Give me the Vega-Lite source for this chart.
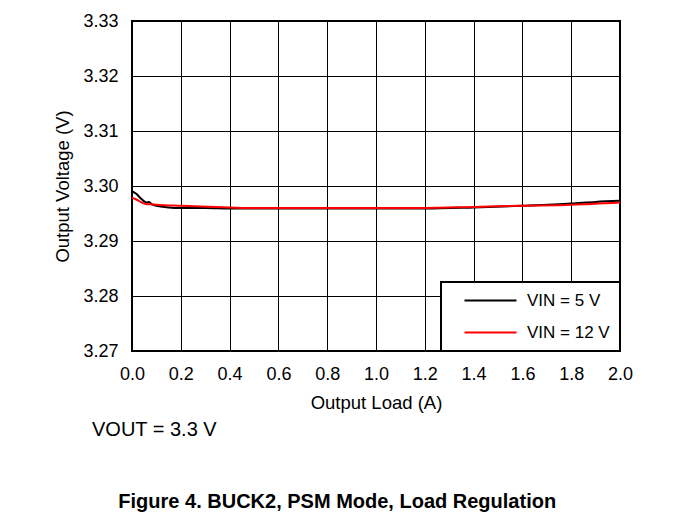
{
  "$schema": "https://vega.github.io/schema/vega-lite/v6.json",
  "padding": {"left": 52, "top": 11, "right": 5, "bottom": 3},
  "background": "white",
  "title": {
    "text": "Figure 4. BUCK2, PSM Mode, Load Regulation",
    "orient": "bottom",
    "anchor": "middle",
    "frame": "bounds",
    "offset": 51,
    "dx": -6,
    "fontSize": 20,
    "fontWeight": "bold",
    "font": "Liberation Sans",
    "color": "black"
  },
  "resolve": {"legend": {"color": "independent"}},
  "config": {
    "font": "Liberation Sans",
    "view": {"stroke": "black", "strokeWidth": 2},
    "axis": {
      "grid": true,
      "gridColor": "black",
      "gridWidth": 1,
      "gridOpacity": 1,
      "domain": false,
      "ticks": false,
      "labelFlush": false,
      "labelFont": "Liberation Sans",
      "labelFontSize": 18,
      "labelColor": "black",
      "titleFont": "Liberation Sans",
      "titleFontSize": 18.5,
      "titleFontWeight": "normal",
      "titleColor": "black"
    }
  },
  "vconcat": [
    {
      "width": 488,
      "height": 330,
      "title": {
        "text": "VOUT = 3.3 V",
        "orient": "bottom",
        "anchor": "start",
        "frame": "group",
        "dx": -40,
        "offset": 8,
        "fontSize": 20,
        "fontWeight": "normal",
        "font": "Liberation Sans",
        "color": "black"
      },
      "data": {
        "values": [
          {"load": 0.00, "voltage": 3.2990, "series": "VIN = 5 V"},
          {"load": 0.01, "voltage": 3.2988, "series": "VIN = 5 V"},
          {"load": 0.02, "voltage": 3.2985, "series": "VIN = 5 V"},
          {"load": 0.03, "voltage": 3.2980, "series": "VIN = 5 V"},
          {"load": 0.04, "voltage": 3.2976, "series": "VIN = 5 V"},
          {"load": 0.05, "voltage": 3.2972, "series": "VIN = 5 V"},
          {"load": 0.06, "voltage": 3.2970, "series": "VIN = 5 V"},
          {"load": 0.07, "voltage": 3.2971, "series": "VIN = 5 V"},
          {"load": 0.08, "voltage": 3.2967, "series": "VIN = 5 V"},
          {"load": 0.10, "voltage": 3.2964, "series": "VIN = 5 V"},
          {"load": 0.15, "voltage": 3.2961, "series": "VIN = 5 V"},
          {"load": 0.20, "voltage": 3.2960, "series": "VIN = 5 V"},
          {"load": 0.30, "voltage": 3.2960, "series": "VIN = 5 V"},
          {"load": 0.40, "voltage": 3.2959, "series": "VIN = 5 V"},
          {"load": 0.50, "voltage": 3.2959, "series": "VIN = 5 V"},
          {"load": 0.60, "voltage": 3.2959, "series": "VIN = 5 V"},
          {"load": 0.80, "voltage": 3.2959, "series": "VIN = 5 V"},
          {"load": 1.00, "voltage": 3.2959, "series": "VIN = 5 V"},
          {"load": 1.20, "voltage": 3.2959, "series": "VIN = 5 V"},
          {"load": 1.40, "voltage": 3.2961, "series": "VIN = 5 V"},
          {"load": 1.60, "voltage": 3.2964, "series": "VIN = 5 V"},
          {"load": 1.80, "voltage": 3.2968, "series": "VIN = 5 V"},
          {"load": 1.90, "voltage": 3.2971, "series": "VIN = 5 V"},
          {"load": 2.00, "voltage": 3.2973, "series": "VIN = 5 V"},
          {"load": 0.00, "voltage": 3.2979, "series": "VIN = 12 V"},
          {"load": 0.02, "voltage": 3.2975, "series": "VIN = 12 V"},
          {"load": 0.04, "voltage": 3.2970, "series": "VIN = 12 V"},
          {"load": 0.06, "voltage": 3.2967, "series": "VIN = 12 V"},
          {"load": 0.08, "voltage": 3.2967, "series": "VIN = 12 V"},
          {"load": 0.10, "voltage": 3.2966, "series": "VIN = 12 V"},
          {"load": 0.20, "voltage": 3.2964, "series": "VIN = 12 V"},
          {"load": 0.40, "voltage": 3.2961, "series": "VIN = 12 V"},
          {"load": 0.50, "voltage": 3.2960, "series": "VIN = 12 V"},
          {"load": 0.60, "voltage": 3.2960, "series": "VIN = 12 V"},
          {"load": 0.80, "voltage": 3.2960, "series": "VIN = 12 V"},
          {"load": 1.00, "voltage": 3.2960, "series": "VIN = 12 V"},
          {"load": 1.20, "voltage": 3.2960, "series": "VIN = 12 V"},
          {"load": 1.40, "voltage": 3.2962, "series": "VIN = 12 V"},
          {"load": 1.60, "voltage": 3.2964, "series": "VIN = 12 V"},
          {"load": 1.80, "voltage": 3.2966, "series": "VIN = 12 V"},
          {"load": 2.00, "voltage": 3.2970, "series": "VIN = 12 V"}
        ]
      },
      "mark": {"type": "line", "strokeWidth": 2, "interpolate": "monotone"},
      "encoding": {
        "x": {
          "field": "load",
          "type": "quantitative",
          "scale": {"domain": [0, 2], "nice": false},
          "axis": {
            "title": "Output Load (A)",
            "values": [0, 0.2, 0.4, 0.6, 0.8, 1.0, 1.2, 1.4, 1.6, 1.8, 2.0],
            "format": ".1f",
            "labelPadding": 14,
            "titlePadding": 10
          }
        },
        "y": {
          "field": "voltage",
          "type": "quantitative",
          "scale": {"domain": [3.27, 3.33], "nice": false, "zero": false},
          "axis": {
            "title": "Output Voltage (V)",
            "values": [3.27, 3.28, 3.29, 3.30, 3.31, 3.32, 3.33],
            "format": ".2f",
            "labelPadding": 14,
            "titlePadding": 10
          }
        },
        "color": {
          "field": "series",
          "type": "nominal",
          "sort": ["VIN = 5 V", "VIN = 12 V"],
          "scale": {"domain": ["VIN = 5 V", "VIN = 12 V"], "range": ["black", "#ff0000"]},
          "legend": {
            "title": null,
            "orient": "bottom-right",
            "offset": 0,
            "strokeColor": "black",
            "fillColor": "white",
            "padding": 10,
            "symbolType": "M-5.2,0H5.2",
            "symbolSize": 100,
            "symbolStrokeWidth": 2,
            "labelFontSize": 17,
            "labelFont": "Liberation Sans",
            "labelColor": "black",
            "rowPadding": 14,
            "labelOffset": 28,
            "symbolOffset": 31,
            "encode": {"legend": {"update": {"strokeWidth": {"value": 2}}}}
          }
        },
        "order": {"field": "series", "sort": "descending"}
      }
    }
  ]
}
